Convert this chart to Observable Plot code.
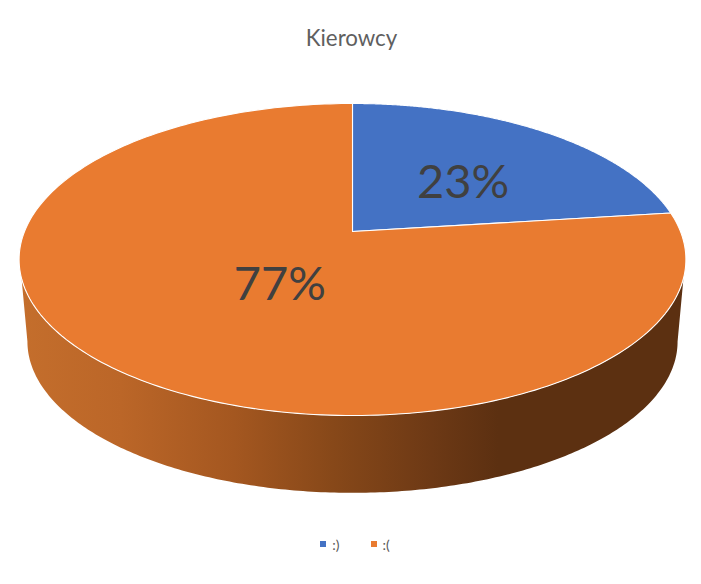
<!DOCTYPE html>
<html>
<head>
<meta charset="utf-8">
<script src="https://cdn.jsdelivr.net/npm/d3@7"></script>
<script src="https://cdn.jsdelivr.net/npm/@observablehq/plot@0.6"></script>
<style>
  html, body { margin: 0; padding: 0; background: #fff; }
  body { width: 701px; height: 584px; overflow: hidden; font-family: Lato, "Open Sans", sans-serif; }
  #title { height: 60px; box-sizing: border-box; padding-top: 23px; text-align: center; font-size: 22.3px; line-height: 30px; color: #5f5f5f; }
  #title span { position: relative; left: 1px; }
  #legend { display: flex; justify-content: center; align-items: center; gap: 31px; height: 24px; margin-top: 7px; padding-left: 9px; font-size: 14px; color: #595959; }
  #legend div { display: flex; align-items: center; gap: 6px; }
  #legend i { display: block; width: 6px; height: 6px; }
  svg { display: block; }
</style>
</head>
<body>
<div id="title"><span>Kierowcy</span></div>
<div id="chart"></div>
<div id="legend"></div>
<script>
const categories = [":)", ":("];
const shares = [23, 77];
const colors = ["#4472C4", "#E97B30"];
const labelRadius = [0.5, 0.4];
const labelNudge = [[9, 5], [19, 6]];
const sideStops = [
  [0.00, "#c46e2c"], [0.15, "#bb6628"], [0.32, "#a45720"], [0.47, "#874819"],
  [0.62, "#6d3915"], [0.72, "#5c3011"], [1.00, "#5c3011"]
];

// Perspective view of the pie's circular top
const rx = 328, ry = 151, tilt = -0.1795;
const rimCentre = 28, rimDrop = 82, rimScale = 0.975;
const project = (deg, r = 1) => {
  const a = deg * Math.PI / 180, u = Math.sin(a) * r, v = -Math.cos(a) * r, w = 1 + tilt * v;
  return { x: rx * u / w, y: ry * v / w };
};
const toRim = (p) => ({ x: p.x * rimScale, y: (p.y - rimCentre) * 0.97 + rimCentre + rimDrop });
const sweep = (a0, a1, n = 240) => d3.range(n + 1).map((i) => a0 + (a1 - a0) * i / n);

// Slices, from the shares
const total = d3.sum(shares);
let acc = 0;
const slices = categories.map((cat, i) => {
  const a0 = acc / total * 360;
  acc += shares[i];
  const a1 = acc / total * 360;
  return { cat, share: shares[i], a0, a1, mid: (a0 + a1) / 2, i };
});
const wedgePoints = slices.flatMap((s) => {
  const apex = { x: 0, y: 0, cat: s.cat };
  const arc = sweep(s.a0, s.a1).map((d) => ({ ...project(d), cat: s.cat }));
  return [apex, ...arc, apex];
});

// Visible wall of the pie
const wall = [
  ...sweep(107.1, 252.9).map((d) => project(d)),
  ...sweep(259.7, 100.3).map((d) => toRim(project(d)))
];
wall.push(wall[0]);

const labels = slices.map((s) => ({ ...project(s.mid, labelRadius[s.i]), text: Math.round(s.share / total * 100) + "%", i: s.i }));

const defs = () => {
  const d = d3.create("svg:defs");
  const g = d.append("linearGradient").attr("id", "side").attr("x1", 0).attr("x2", 1).attr("y1", 0).attr("y2", 0);
  sideStops.forEach(([o, c]) => g.append("stop").attr("offset", o).attr("stop-color", c));
  return d.node();
};

const chart = Plot.plot({
  width: 701,
  height: 465,
  margin: 0,
  x: { domain: [-352, 349], range: [0, 701], axis: null },
  y: { domain: [-171, 294], range: [0, 465], axis: null },
  color: { domain: categories, range: colors },
  marks: [
    defs,
    Plot.line(wall, { x: "x", y: "y", fill: "url(#side)", stroke: "none", curve: "linear" }),
    Plot.line(wedgePoints, { x: "x", y: "y", z: "cat", fill: "cat", stroke: "#fff", strokeWidth: 1.1, curve: "linear" }),
    ...labels.map((l) => Plot.text([l], {
      x: "x", y: "y", text: "text", dx: labelNudge[l.i][0], dy: labelNudge[l.i][1],
      fontSize: 47, fill: "#404040", fontFamily: "Lato, 'Open Sans', sans-serif"
    }))
  ]
});
document.getElementById("chart").append(chart);

const legend = document.getElementById("legend");
categories.forEach((c, i) => {
  const item = document.createElement("div");
  const sw = document.createElement("i");
  sw.style.background = colors[i];
  const t = document.createElement("span");
  t.textContent = c;
  item.append(sw, t);
  legend.append(item);
});
</script>
</body>
</html>
